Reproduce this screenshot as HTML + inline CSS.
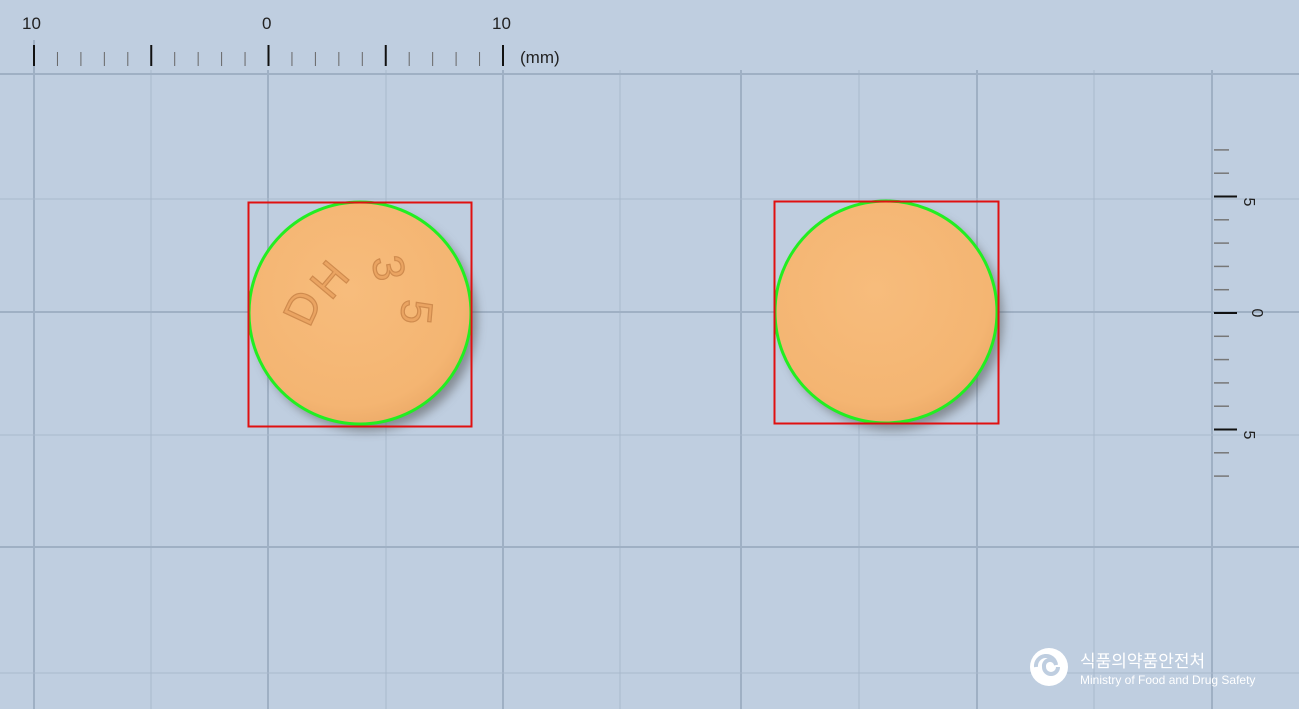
<!DOCTYPE html>
<html><head><meta charset="utf-8"><style>
html,body{margin:0;padding:0;width:1299px;height:709px;overflow:hidden;background:#bfcee0;}
svg{display:block;font-family:"Liberation Sans","Noto Sans CJK KR",sans-serif;}
</style></head><body>
<svg width="1299" height="709">
<defs>
<radialGradient id="pg" cx="45%" cy="40%" r="65%"><stop offset="0" stop-color="#f7bc7c"/><stop offset="0.8" stop-color="#f4b572"/><stop offset="1" stop-color="#eba866"/></radialGradient>
<filter id="sh" x="-20%" y="-20%" width="150%" height="150%"><feGaussianBlur stdDeviation="5"/></filter>
</defs>
<g id="grid"></g>
<g id="truler">
<text x="22" y="29" font-size="17" fill="#222">10</text>
<text x="262" y="29" font-size="17" fill="#222">0</text>
<text x="492" y="29" font-size="17" fill="#222">10</text>
<text x="520" y="63" font-size="17" fill="#222">(mm)</text>
</g>
<g id="rruler">
<text transform="translate(1244,202) rotate(90)" font-size="16" fill="#222" text-anchor="middle">5</text>
<text transform="translate(1252,313) rotate(90)" font-size="16" fill="#222" text-anchor="middle">0</text>
<text transform="translate(1244,435) rotate(90)" font-size="16" fill="#222" text-anchor="middle">5</text>
</g>
<g>
<circle cx="366" cy="320" r="111" fill="#555" opacity="0.55" filter="url(#sh)"/>
<circle cx="360" cy="313" r="111" fill="url(#pg)" stroke="#22ee22" stroke-width="3"/>
<g font-size="44" fill="#eaa462" stroke="#cf8b4e" stroke-width="1.2" text-anchor="middle" dominant-baseline="central">
<text transform="translate(303,308) rotate(-65)">D</text>
<text transform="translate(330,280) rotate(-50)">H</text>
<text transform="translate(388,268) rotate(80)">3</text>
<text transform="translate(416,312) rotate(95)">5</text>
</g>
<rect x="248.5" y="202.5" width="223" height="224" fill="none" stroke="#e01010" stroke-width="2"/>
</g>
<g>
<circle cx="892" cy="319" r="111" fill="#555" opacity="0.55" filter="url(#sh)"/>
<circle cx="886" cy="312" r="111" fill="url(#pg)" stroke="#22ee22" stroke-width="3"/>
<rect x="774.5" y="201.5" width="224" height="222" fill="none" stroke="#e01010" stroke-width="2"/>
</g>
<g>
<circle cx="1049" cy="667" r="19" fill="#fff"/>
<path d="M1036 667 a10 10 0 0 1 20 -2 a6 6 0 0 0 -12 2 a7 7 0 0 0 14 0" fill="none" stroke="#bfcee0" stroke-width="4"/>
<text x="1080" y="667" font-size="17" fill="#fff">식품의약품안전처</text>
<text x="1080" y="684" font-size="12" fill="#fff">Ministry of Food and Drug Safety</text>
</g>
</svg>
<script>
const ns="http://www.w3.org/2000/svg";
const grid=document.getElementById('grid');
const vx=[34,151,268,386,503,620,741,859,977,1094,1212];
const hy=[74,199,312,435,547,673];
vx.forEach((x,i)=>{const l=document.createElementNS(ns,'line');


l.setAttribute('x1',x);l.setAttribute('x2',x);l.setAttribute('y1',i==0?40:70);l.setAttribute('y2',709);
l.setAttribute('stroke',i%2==0?'#9fb0c4':'#a9b9cc');l.setAttribute('stroke-width',i%2==0?2:1);grid.appendChild(l);});
hy.forEach((y,i)=>{const l=document.createElementNS(ns,'line');


l.setAttribute('x1',0);l.setAttribute('x2',1299);l.setAttribute('y1',y);l.setAttribute('y2',y);
l.setAttribute('stroke',i%2==0?'#9fb0c4':'#a9b9cc');l.setAttribute('stroke-width',i%2==0?2:1);grid.appendChild(l);});
const tr=document.getElementById('truler');
for(let i=0;i<=20;i++){const x=34+i*(469/20);const major=i%5==0;const l=document.createElementNS(ns,'line');


l.setAttribute('x1',x);l.setAttribute('x2',x);l.setAttribute('y1',major?45:52);l.setAttribute('y2',66);
l.setAttribute('stroke',major?'#111':'#666');l.setAttribute('stroke-width',major?2:1);tr.appendChild(l);}
const rr=document.getElementById('rruler');
for(let i=-7;i<=7;i++){const y=313+i*23.3;const major=i%5==0;const l=document.createElementNS(ns,'line');


l.setAttribute('x1',1214);l.setAttribute('x2',major?1237:1229);l.setAttribute('y1',y);l.setAttribute('y2',y);
l.setAttribute('stroke',major?'#111':'#777');l.setAttribute('stroke-width',major?2:1.5);rr.appendChild(l);}
</script>
</body></html>
